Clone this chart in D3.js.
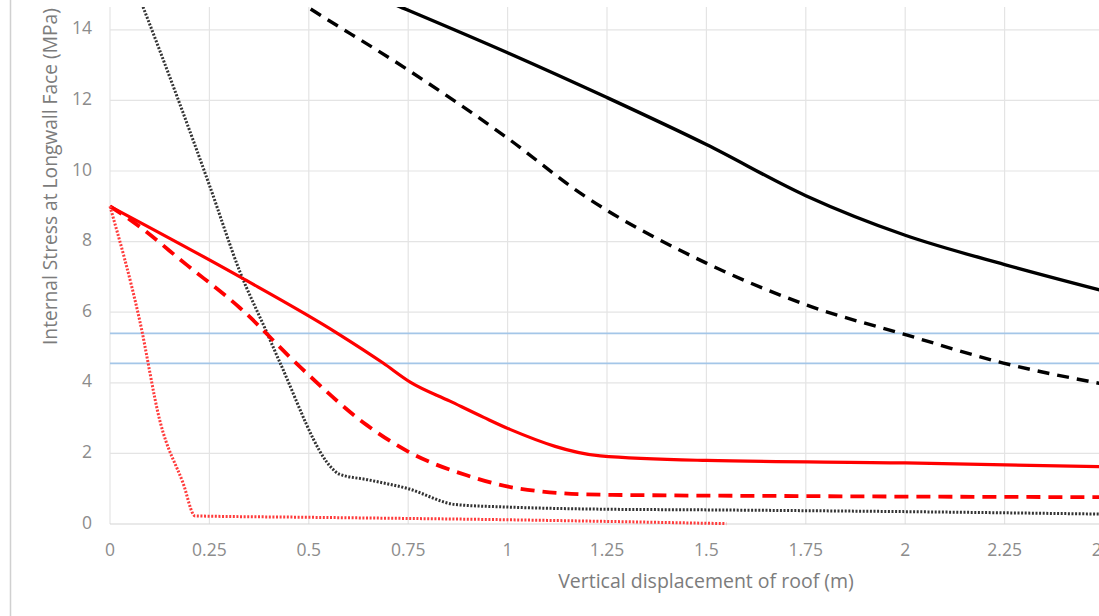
<!DOCTYPE html>
<html>
<head>
<meta charset="utf-8">
<script src="https://cdn.jsdelivr.net/npm/d3@7"></script>
<style>
  body { margin: 0; background: #fff; }
  svg { display: block; font-family: "Open Sans", sans-serif; }
</style>
</head>
<body>
<svg id="chart" width="1099" height="616"></svg>
<script>
// tick values
const xTicks = [0, 0.25, 0.5, 0.75, 1, 1.25, 1.5, 1.75, 2, 2.25, 2.5];
const yTicks = [0, 2, 4, 6, 8, 10, 12, 14];

// reference stress levels (blue lines)
const refLevels = [5.4, 4.55];

// series: [displacement (m), stress (MPa)]
const blackSolid = [[0.55, 15.5], [0.73, 14.65], [1.0, 13.35], [1.25, 12.08], [1.5, 10.75],
  [1.75, 9.3], [2.0, 8.18], [2.25, 7.35], [2.5, 6.6]];
const blackDashed = [[0.42, 15.2], [0.496, 14.65], [0.75, 12.86], [1.0, 10.93], [1.182, 9.38],
  [1.5, 7.39], [1.753, 6.2], [2.005, 5.35], [2.247, 4.56], [2.5, 3.96]];
const blackDotted = [[0.05, 15.6], [0.083, 14.65], [0.25, 9.6], [0.327, 7.14], [0.395, 5.41],
  [0.428, 4.56], [0.561, 1.55], [0.575, 1.42], [0.65, 1.25], [0.75, 1.0], [0.87, 0.55],
  [1.0, 0.48], [1.233, 0.42], [1.5, 0.4], [2.0, 0.35], [2.5, 0.28]];
const redSolid = [[0, 9.0], [0.327, 7.0], [0.571, 5.41], [0.687, 4.56], [0.755, 4.02],
  [0.855, 3.48], [0.94, 3.02], [1.006, 2.68], [1.233, 1.93], [1.5, 1.8], [2.0, 1.73], [2.5, 1.62]];
const redDashed = [[0, 9.0], [0.058, 8.56], [0.193, 7.34], [0.327, 6.12], [0.478, 4.45],
  [0.646, 2.8], [0.755, 2.02], [0.897, 1.38], [1.03, 1.0], [1.233, 0.83], [1.75, 0.79],
  [2.5, 0.76]];
const redDotted = [[0, 9.0], [0.075, 5.75], [0.126, 2.9], [0.184, 1.15], [0.214, 0.23],
  [0.5, 0.19], [1.0, 0.12], [1.55, 0.01]];

const series = [
  { data: blackSolid, color: "#000", width: 3.4, dash: null },
  { data: blackDashed, color: "#000", width: 3.4, dash: "12,8" },
  { data: blackDotted, color: "#333", width: 3, dash: "2,1.6" },
  { data: redSolid, color: "#ff0000", width: 3.2, dash: null },
  { data: redDashed, color: "#ff0000", width: 3.8, dash: "14,8" },
  { data: redDotted, color: "#ff3b3b", width: 3, dash: "2,1.6" }
];

const svg = d3.select("#chart");
const plotTop = 7, plotBottom = 524, plotLeft = 110, plotRight = 1099;

const x = d3.scaleLinear().domain([0, 2.5]).range([110, 1104]);
const y = d3.scaleLinear().domain([0, 14]).range([524, 29.8]);

// outer frame edge on the left
svg.append("line")
  .attr("x1", 10.5).attr("x2", 10.5).attr("y1", 0).attr("y2", 616)
  .attr("stroke", "#d0d0d0").attr("stroke-width", 1.5);

// gridlines
svg.append("g").selectAll("line")
  .data(xTicks)
  .join("line")
  .attr("x1", d => x(d)).attr("x2", d => x(d))
  .attr("y1", plotTop).attr("y2", plotBottom)
  .attr("stroke", "#e4e4e4").attr("stroke-width", 1.2);

svg.append("g").selectAll("line")
  .data(yTicks)
  .join("line")
  .attr("x1", plotLeft).attr("x2", plotRight)
  .attr("y1", d => y(d)).attr("y2", d => y(d))
  .attr("stroke", d => d === 0 ? "#d4d4d4" : "#e4e4e4").attr("stroke-width", 1.2);

// axis labels
svg.append("g").selectAll("text")
  .data(xTicks)
  .join("text")
  .attr("x", d => x(d)).attr("y", 551)
  .attr("text-anchor", "middle").attr("dominant-baseline", "middle")
  .attr("fill", "#8c8c8c").style("font-size", "17.5px")
  .text(d => d);

svg.append("g").selectAll("text")
  .data(yTicks)
  .join("text")
  .attr("x", 92).attr("y", d => y(d))
  .attr("text-anchor", "end").attr("dominant-baseline", "middle")
  .attr("fill", "#8c8c8c").style("font-size", "17.5px")
  .text(d => d);

svg.append("text")
  .attr("x", 706).attr("y", 583)
  .attr("text-anchor", "middle").attr("dominant-baseline", "middle")
  .attr("fill", "#7c7c7c").style("font-size", "19.5px")
  .text("Vertical displacement of roof (m)");

svg.append("text")
  .attr("transform", "translate(52,345) rotate(-90)")
  .attr("text-anchor", "start").attr("dominant-baseline", "middle")
  .attr("fill", "#7c7c7c").style("font-size", "19.2px")
  .text("Internal Stress at Longwall Face (MPa)");

// clip for series
svg.append("clipPath").attr("id", "plotClip")
  .append("rect")
  .attr("x", plotLeft - 3).attr("y", plotTop)
  .attr("width", plotRight - plotLeft + 3).attr("height", plotBottom - plotTop + 5);

const plot = svg.append("g").attr("clip-path", "url(#plotClip)");

// reference lines
plot.selectAll(".ref")
  .data(refLevels)
  .join("line")
  .attr("class", "ref")
  .attr("x1", plotLeft).attr("x2", plotRight)
  .attr("y1", d => y(d)).attr("y2", d => y(d))
  .attr("stroke", "#a4c6e8").attr("stroke-width", 1.8);

const line = d3.line()
  .x(d => x(d[0]))
  .y(d => y(d[1]))
  .curve(d3.curveMonotoneX);

plot.selectAll(".series")
  .data(series)
  .join("path")
  .attr("class", "series")
  .attr("d", d => line(d.data))
  .attr("fill", "none")
  .attr("stroke", d => d.color)
  .attr("stroke-width", d => d.width)
  .attr("stroke-dasharray", d => d.dash)
  .attr("stroke-linejoin", "round");
</script>
</body>
</html>
